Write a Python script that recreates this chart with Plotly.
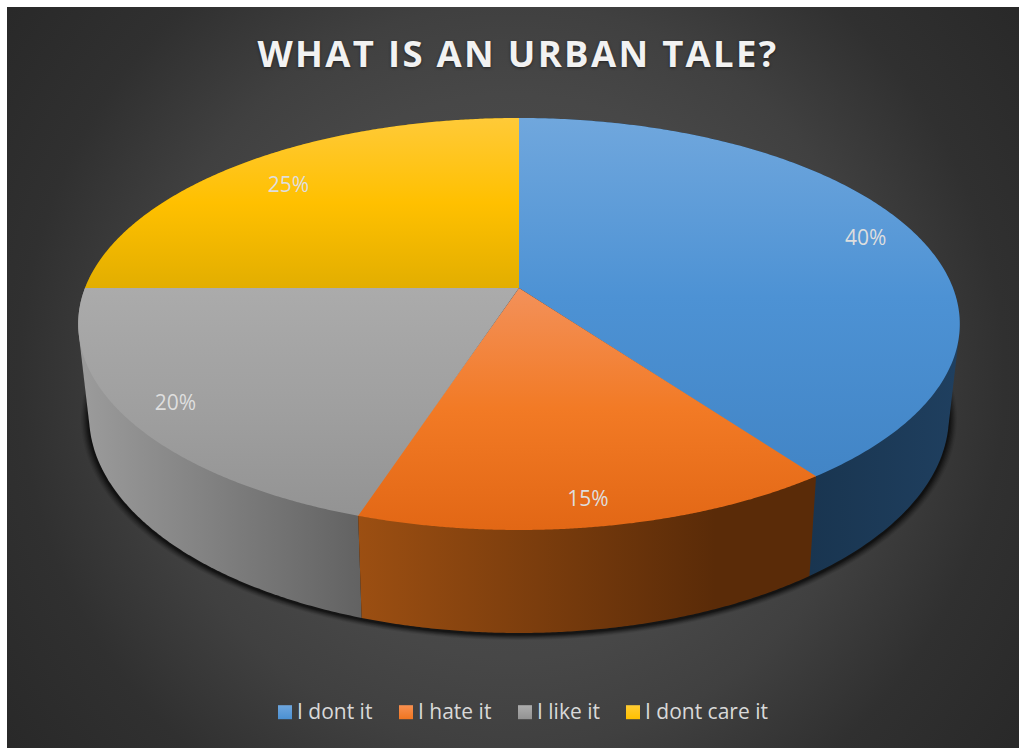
import numpy as np
import plotly.graph_objects as go

# Chart content
TITLE = "WHAT IS AN URBAN TALE?"
categories = ["I dont it", "I hate it", "I like it", "I dont care it"]
shares = [40, 15, 20, 25]

# Slice colours: top-face gradient (light, base, dark), wall gradient (left, right), legend swatch
top_colors = [
    ("#70a7dd", "#4d92d4", "#4285c6"),
    ("#f3915a", "#f27a25", "#e26715"),
    ("#ababab", "#a0a0a0", "#939393"),
    ("#ffca38", "#ffc000", "#e2ae00"),
]
wall_colors = [
    ("#193550", "#1f3f5f"),
    ("#9c4f12", "#5a2b08"),
    ("#9c9c9c", "#626262"),
    ("#8a6c00", "#8a6c00"),
]
wall_reach = [1.0, 0.78, 1.0, 1.0]
swatch_colors = [
    ("#6ea6de", "#4b90d2"),
    ("#f89050", "#f07520"),
    ("#adadad", "#929292"),
    ("#ffcc33", "#ffc000"),
]
label_radius = [0.88, 0.895, 0.88, 0.82]
label_dx = [0, -3, -4, -2]

# Perspective projection of the upper and lower discs
WIDTH, HEIGHT = 1019, 748
MARGIN = 7
CX = 519
UPPER = dict(cy=288.0, a=434.0, b=199.7, p=0.1747)
LOWER = dict(cy=377.5, a=423.0, b=210.0, p=0.178)


def project(theta, r, disc):
    """theta in degrees clockwise from 12 o'clock, r as a fraction of the radius."""
    t = np.radians(theta)
    wx, wy = r * np.sin(t), r * np.cos(t)
    w = 1 + disc["p"] * wy
    return CX + disc["a"] * wx / w, disc["cy"] - disc["b"] * wy / w


def convex_hull(xs, ys):
    """Closed hull outline of a point cloud, so a wall keeps its straight silhouette edges."""
    pts = sorted(set(zip(np.round(xs, 3).tolist(), np.round(ys, 3).tolist())))

    def half(points):
        out = []
        for p in points:
            while len(out) > 1 and ((out[-1][0] - out[-2][0]) * (p[1] - out[-2][1])
                                    - (out[-1][1] - out[-2][1]) * (p[0] - out[-2][0])) <= 0:
                out.pop()
            out.append(p)
        return out

    loop = half(pts)[:-1] + half(pts[::-1])[:-1]
    loop.append(loop[0])
    return [p[0] for p in loop], [p[1] for p in loop]


# Slice boundaries derived from the shares
edges = np.concatenate([[0], np.cumsum(shares)]) * 360.0 / sum(shares)

fig = go.Figure()


def add_poly(xs, ys, **kw):
    fig.add_trace(go.Scatter(x=list(xs), y=list(ys), mode="none", fill="toself",
                             hoverinfo="skip", showlegend=False, **kw))


# Backdrop with a soft radial glow
RX, RY = 640, 640
BX, BY = 512, 376
add_poly([BX - RX, BX + RX, BX + RX, BX - RX, BX - RX],
         [BY - RY, BY - RY, BY + RY, BY + RY, BY - RY],
         fillgradient=dict(type="radial", colorscale=[
             [0, "#515151"], [0.44, "#474747"], [0.58, "#404040"],
             [0.77, "#303030"], [1, "#282828"]]))

# Soft shadow hugging the lower disc
theta_all = np.linspace(0, 360, 361)
for grow, alpha in [(1.018, 0.07), (1.015, 0.10), (1.012, 0.14), (1.009, 0.18), (1.006, 0.24), (1.003, 0.30)]:
    sx, sy = project(theta_all, grow, LOWER)
    add_poly(sx, sy + 1.5, fillcolor=f"rgba(0,0,0,{alpha})")

# Side walls, nearest slices last
for i in [3, 0, 2, 1]:
    th = np.linspace(edges[i], edges[i + 1], 160)
    ux, uy = project(th, 1, UPPER)
    lx, ly = project(th, 1, LOWER)
    xs, ys = convex_hull(np.concatenate([ux, lx]), np.concatenate([uy, ly]))
    left, right = wall_colors[i]
    x0, x1 = (810, 955) if i == 0 else (min(xs), max(xs))
    stops = [[0, left], [wall_reach[i], right]]
    if wall_reach[i] < 1:
        stops.append([1, right])
    add_poly(xs, ys, fillgradient=dict(type="horizontal", start=float(x0), stop=float(x1), colorscale=stops))

# Top faces; each slightly overlaps its neighbour so no seam shows between them
SEAM = 0.15
for i in range(len(shares)):
    start = edges[i] - (SEAM if i == 0 else 0)
    stop = edges[i + 1] + (SEAM if i < len(shares) - 1 else 0)
    th = np.linspace(start, stop, 240)
    ax, ay = project(th, 1, UPPER)
    ox, oy = project(0.0, 0.0, UPPER)
    xs = np.concatenate([[ox], ax, [ox]])
    ys = np.concatenate([[oy], ay, [oy]])
    light, base, dark = top_colors[i]
    add_poly(xs, ys, fillgradient=dict(type="vertical", start=float(ys.min()), stop=float(ys.max()),
                                       colorscale=[[0, light], [0.5, base], [1, dark]]))

# Percentage labels on the slices
mids = (edges[:-1] + edges[1:]) / 2
lab_x, lab_y = project(mids, np.array(label_radius), UPPER)
fig.add_trace(go.Scatter(x=lab_x + np.array(label_dx), y=lab_y + 3.5, mode="text",
                         text=[f"{v}%" for v in shares],
                         textposition="middle center", hoverinfo="skip", showlegend=False,
                         textfont=dict(family="Open Sans", size=21, color="#dedede")))

# Legend row along the bottom
SWATCH_LEFT = [278, 399, 518, 626]
SWATCH_SIZE = 14
SWATCH_TOP = 705.2
TEXT_LEFT = [297, 418, 537, 645]
for i, name in enumerate(categories):
    x0 = SWATCH_LEFT[i]
    add_poly([x0, x0 + SWATCH_SIZE, x0 + SWATCH_SIZE, x0, x0],
             [SWATCH_TOP, SWATCH_TOP, SWATCH_TOP + SWATCH_SIZE, SWATCH_TOP + SWATCH_SIZE, SWATCH_TOP],
             fillgradient=dict(type="vertical", start=SWATCH_TOP, stop=SWATCH_TOP + SWATCH_SIZE,
                               colorscale=[[0, swatch_colors[i][0]], [1, swatch_colors[i][1]]]))
    fig.add_trace(go.Scatter(x=[TEXT_LEFT[i]], y=[714], mode="text", text=[name],
                             textposition="middle right", hoverinfo="skip", showlegend=False,
                             textfont=dict(family="Open Sans", size=21, color="#d9d9d9")))

fig.update_layout(
    width=WIDTH, height=HEIGHT,
    margin=dict(l=0, r=0, t=0, b=0),
    paper_bgcolor="white",
    plot_bgcolor="#333333",
    showlegend=False,
    title=dict(text=TITLE, x=518 / WIDTH, xanchor="center", y=1 - 54 / HEIGHT, yanchor="middle",
               font=dict(family="Open Sans", size=36.5, weight=700, color="#f2f2f2",
                         shadow="0px 1px 3px rgba(0,0,0,0.5)")),
    xaxis=dict(range=[MARGIN, WIDTH], domain=[MARGIN / WIDTH, 1], visible=False, fixedrange=True),
    yaxis=dict(range=[HEIGHT, MARGIN], domain=[0, 1 - MARGIN / HEIGHT], visible=False, fixedrange=True),
)

fig.write_html("out.html", config={"displayModeBar": False},
               post_script="document.querySelectorAll('.gtitle').forEach(function(t){t.style.letterSpacing='2.3px';});")
